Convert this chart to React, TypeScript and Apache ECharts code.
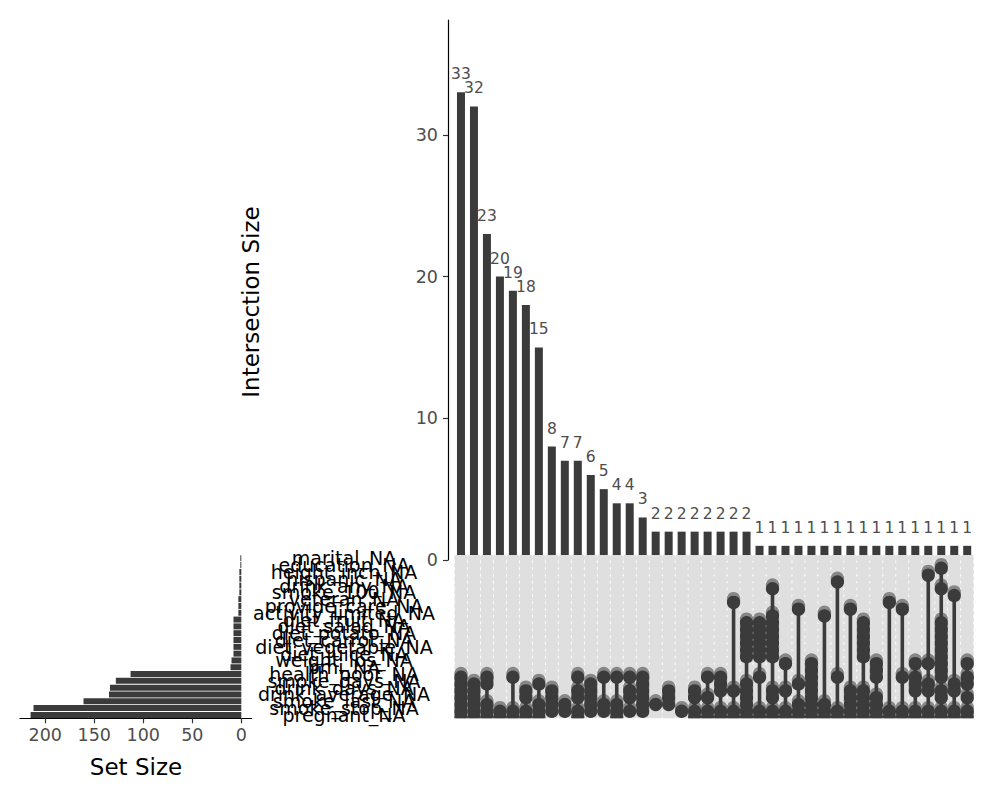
import React, { useEffect, useRef } from "react";
import * as echarts from "echarts";

const setNames = [
  "marital_NA", "education_NA", "height_inch_NA", "hispanic_NA", "drink_any_NA",
  "smoke_100_NA", "veteran_NA", "provide_care_NA", "activity_limited_NA", "diet_fruit_NA",
  "diet_salad_NA", "diet_potato_NA", "diet_carrot_NA", "diet_vegetable_NA", "diet_juice_NA",
  "weight_lbs_NA", "bmi_NA", "health_poor_NA", "smoke_days_NA", "drink_days_NA",
  "drink_average_NA", "smoke_last_NA", "smoke_stop_NA", "pregnant_NA",
];
const setSizes = [1, 1, 2, 2, 2, 2, 3, 3, 3, 8, 8, 8, 8, 8, 8, 10, 11, 113, 128, 134, 135, 161, 212, 215];

const intersectionSizes = [
  33, 32, 23, 20, 19, 18, 15, 8, 7, 7, 6, 5, 4, 4, 3, 2, 2, 2, 2, 2, 2, 2, 2,
  1, 1, 1, 1, 1, 1, 1, 1, 1, 1, 1, 1, 1, 1, 1, 1, 1,
];

const DIET = ["diet_fruit_NA", "diet_salad_NA", "diet_potato_NA", "diet_carrot_NA", "diet_vegetable_NA", "diet_juice_NA"];

const intersectionSets: string[][] = [
  ["health_poor_NA", "smoke_days_NA", "drink_days_NA", "drink_average_NA", "smoke_last_NA", "smoke_stop_NA", "pregnant_NA"],
  ["smoke_days_NA", "drink_days_NA", "drink_average_NA", "smoke_last_NA", "smoke_stop_NA", "pregnant_NA"],
  ["health_poor_NA", "smoke_days_NA", "smoke_last_NA", "smoke_stop_NA", "pregnant_NA"],
  ["smoke_stop_NA", "pregnant_NA"],
  ["health_poor_NA", "smoke_stop_NA", "pregnant_NA"],
  ["drink_days_NA", "drink_average_NA", "smoke_stop_NA", "pregnant_NA"],
  ["smoke_days_NA", "smoke_last_NA", "smoke_stop_NA", "pregnant_NA"],
  ["drink_days_NA", "drink_average_NA", "smoke_last_NA", "smoke_stop_NA"],
  ["smoke_last_NA", "smoke_stop_NA"],
  ["health_poor_NA", "drink_days_NA", "drink_average_NA", "smoke_stop_NA", "pregnant_NA"],
  ["smoke_days_NA", "drink_days_NA", "drink_average_NA", "smoke_last_NA", "smoke_stop_NA"],
  ["health_poor_NA", "smoke_last_NA", "smoke_stop_NA"],
  ["health_poor_NA", "smoke_last_NA", "smoke_stop_NA", "pregnant_NA"],
  ["health_poor_NA", "drink_days_NA", "drink_average_NA", "smoke_stop_NA"],
  ["health_poor_NA", "smoke_days_NA", "drink_days_NA", "drink_average_NA", "smoke_last_NA", "smoke_stop_NA"],
  ["smoke_last_NA"],
  ["drink_days_NA", "drink_average_NA", "smoke_last_NA"],
  ["smoke_stop_NA"],
  ["drink_days_NA", "drink_average_NA", "smoke_stop_NA", "pregnant_NA"],
  ["health_poor_NA", "drink_average_NA", "smoke_stop_NA", "pregnant_NA"],
  ["health_poor_NA", "smoke_days_NA", "drink_days_NA", "smoke_stop_NA", "pregnant_NA"],
  ["veteran_NA", "drink_days_NA", "smoke_stop_NA", "pregnant_NA"],
  [...DIET, "smoke_days_NA", "drink_days_NA", "drink_average_NA", "smoke_last_NA", "smoke_stop_NA", "pregnant_NA"],
  [...DIET, "health_poor_NA", "smoke_stop_NA", "pregnant_NA"],
  ["drink_any_NA", "activity_limited_NA", ...DIET, "drink_days_NA", "drink_average_NA", "smoke_stop_NA", "pregnant_NA"],
  ["weight_lbs_NA", "drink_days_NA", "smoke_stop_NA", "pregnant_NA"],
  ["provide_care_NA", "smoke_days_NA", "smoke_last_NA", "smoke_stop_NA", "pregnant_NA"],
  ["weight_lbs_NA", "bmi_NA", "health_poor_NA", "smoke_days_NA", "drink_days_NA", "drink_average_NA", "smoke_last_NA", "smoke_stop_NA", "pregnant_NA"],
  ["activity_limited_NA", "smoke_last_NA", "smoke_stop_NA", "pregnant_NA"],
  ["hispanic_NA", "health_poor_NA", "smoke_stop_NA", "pregnant_NA"],
  ["provide_care_NA", "drink_days_NA", "drink_average_NA", "smoke_last_NA", "smoke_stop_NA", "pregnant_NA"],
  [...DIET, "drink_days_NA", "drink_average_NA", "smoke_last_NA", "smoke_stop_NA", "pregnant_NA"],
  ["weight_lbs_NA", "bmi_NA", "health_poor_NA", "drink_average_NA", "smoke_last_NA", "smoke_stop_NA", "pregnant_NA"],
  ["veteran_NA", "smoke_stop_NA", "pregnant_NA"],
  ["provide_care_NA", "health_poor_NA", "smoke_stop_NA", "pregnant_NA"],
  ["weight_lbs_NA", "health_poor_NA", "smoke_days_NA", "drink_days_NA", "smoke_stop_NA", "pregnant_NA"],
  ["height_inch_NA", "weight_lbs_NA", "smoke_days_NA", "drink_days_NA", "smoke_stop_NA", "pregnant_NA"],
  ["education_NA", "drink_any_NA", ...DIET, "weight_lbs_NA", "bmi_NA", "health_poor_NA", "drink_days_NA", "drink_average_NA", "smoke_stop_NA", "pregnant_NA"],
  ["smoke_100_NA", "smoke_days_NA", "drink_days_NA", "smoke_stop_NA", "pregnant_NA"],
  ["weight_lbs_NA", "health_poor_NA", "smoke_days_NA", "drink_average_NA", "smoke_stop_NA", "pregnant_NA"],
];

const setSizeTicks = [0, 50, 100, 150, 200];
const intersectionTicks = [0, 10, 20, 30];

const FONT = "DejaVu Sans";
const DARK = "#3b3b3b";
const DOT_R = 6.7;

export default function App() {
  const ref = useRef<HTMLDivElement>(null);

  useEffect(() => {
    if (!ref.current) return;
    const chart = echarts.init(ref.current, undefined, { renderer: "svg" });

    const bgCells: number[][] = [];
    intersectionSizes.forEach((_, c) => {
      setNames.forEach((_, r) => bgCells.push([c + 1, r]));
    });
    const activeCells: number[][] = [];
    const lines: number[][] = [];
    intersectionSets.forEach((sets, c) => {
      const idx = sets.map((s) => setNames.indexOf(s)).filter((i) => i >= 0).sort((a, b) => a - b);
      idx.forEach((r) => activeCells.push([c + 1, r]));
      lines.push([c + 1, idx[0], idx[idx.length - 1]]);
    });

    const circle = (dy: number, fill: string) => (params: any, api: any) => {
      const p = api.coord([api.value(0), api.value(1)]);
      return { type: "circle", shape: { cx: p[0], cy: p[1] + dy, r: DOT_R }, style: { fill } };
    };

    const option: any = {
      animation: false,
      backgroundColor: "#ffffff",
      grid: [
        { left: 448, top: 20, width: 527, height: 540 },
        { left: 448, top: 554.9, width: 527, height: 163.4 },
        { left: 20, top: 554.9, width: 231.7, height: 163.4 },
      ],
      xAxis: [
        { type: "value", gridIndex: 0, min: 0, max: 40.6, show: false },
        { type: "value", gridIndex: 1, min: 0, max: 40.6, show: false },
        {
          type: "value", gridIndex: 2, min: -10.6, max: 225.8, inverse: true,
          splitLine: { show: false },
          axisLine: { show: true, onZero: false, lineStyle: { color: "#000", width: 1.2 } },
          axisTick: { show: true, customValues: setSizeTicks, length: 5, lineStyle: { color: "#333", width: 1.2 } },
          axisLabel: { customValues: setSizeTicks, fontSize: 17.5, color: "#4d4d4d", fontFamily: FONT, margin: 8 },
        },
      ],
      yAxis: [
        {
          type: "value", gridIndex: 0, min: 0, max: 38.1,
          splitLine: { show: false },
          axisLine: { show: true, lineStyle: { color: "#000", width: 1.2 } },
          axisTick: { show: true, customValues: intersectionTicks, length: 5, lineStyle: { color: "#333", width: 1.2 } },
          axisLabel: { customValues: intersectionTicks, fontSize: 17.5, color: "#4d4d4d", fontFamily: FONT, margin: 10 },
        },
        {
          type: "category", gridIndex: 1, data: setNames, inverse: true,
          axisLine: { show: false }, axisTick: { show: false },
          axisLabel: { interval: 0, fontSize: 19, color: "#000", fontFamily: FONT, align: "center", margin: 104 },
        },
        { type: "category", gridIndex: 2, data: setNames, inverse: true, show: false },
      ],
      series: [
        {
          type: "bar", xAxisIndex: 0, yAxisIndex: 0, barWidth: 8, z: 1,
          data: intersectionSizes.map((v, i) => [i + 1, v]),
          itemStyle: { color: DARK },
          label: { show: true, position: "top", distance: 10, fontSize: 15.5, color: "#4d4d4d", fontFamily: FONT,
            formatter: (p: any) => String(p.value[1]) },
        },
        {
          type: "custom", xAxisIndex: 1, yAxisIndex: 1, clip: true, z: 3,
          data: bgCells, renderItem: circle(0, "#dfdfdf"),
        },
        {
          type: "custom", xAxisIndex: 1, yAxisIndex: 1, clip: true, z: 4,
          data: activeCells, renderItem: circle(-0.5, "#878787"),
        },
        {
          type: "custom", xAxisIndex: 1, yAxisIndex: 1, clip: true, z: 5,
          data: lines,
          renderItem: (params: any, api: any) => {
            const a = api.coord([api.value(0), api.value(1)]);
            const b = api.coord([api.value(0), api.value(2)]);
            return { type: "line", shape: { x1: a[0], y1: a[1], x2: b[0], y2: b[1] }, style: { stroke: DARK, lineWidth: 3.6 } };
          },
        },
        {
          type: "custom", xAxisIndex: 1, yAxisIndex: 1, clip: true, z: 6,
          data: activeCells, renderItem: circle(3.2, DARK),
        },
        {
          type: "bar", xAxisIndex: 2, yAxisIndex: 2, barWidth: 6, z: 2,
          data: setSizes, itemStyle: { color: DARK },
        },
      ],
      graphic: [
        {
          type: "text", x: 251, y: 302, rotation: Math.PI / 2,
          style: { text: "Intersection Size", fontSize: 23, fontFamily: FONT, fill: "#000", align: "center", verticalAlign: "middle" },
        },
        {
          type: "text", x: 136, y: 767,
          style: { text: "Set Size", fontSize: 23, fontFamily: FONT, fill: "#000", align: "center", verticalAlign: "middle" },
        },
      ],
    };

    chart.setOption(option);
    return () => chart.dispose();
  }, []);

  return <div ref={ref} style={{ position: "fixed", left: 0, top: 0, width: 1000, height: 800 }} />;
}
